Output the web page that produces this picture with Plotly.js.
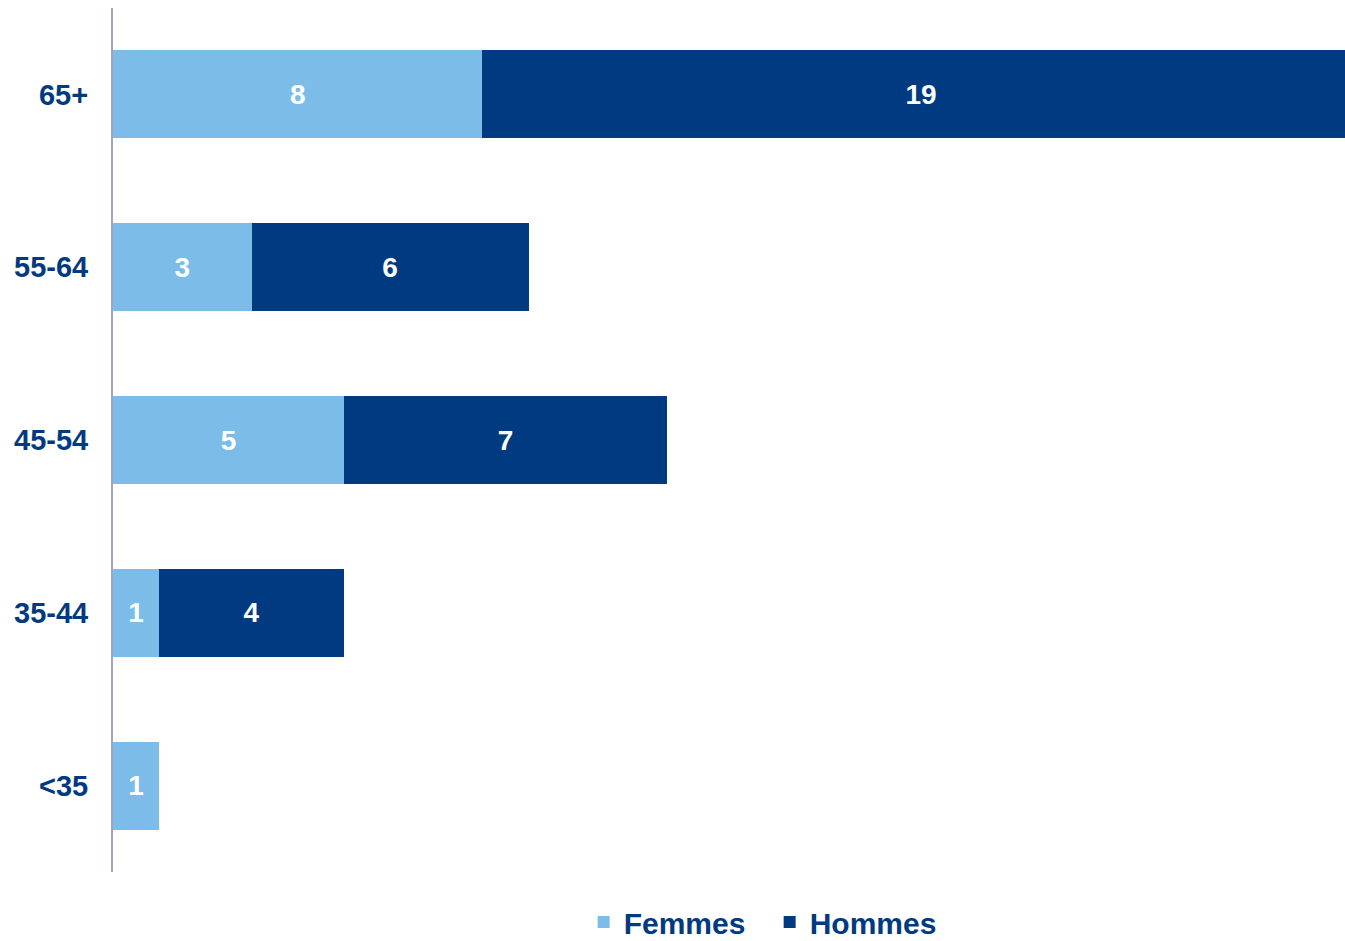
<!DOCTYPE html>
<html>
<head>
<meta charset="utf-8">
<script src="https://cdn.plot.ly/plotly-3.0.1.min.js"></script>
<style>
  html, body { margin: 0; padding: 0; background: #ffffff; }
  #chart { width: 1345px; height: 941px; }
</style>
</head>
<body>
<div id="chart"></div>
<script>
const categories = ['65+', '55-64', '45-54', '35-44', '<35'];
const femmes = [8, 3, 5, 1, 1];
const hommes = [19, 6, 7, 4, 0];

const lightBlue = '#7BBDE8';
const darkBlue = '#003A80';
const labelFont = { family: 'Liberation Sans, Arial, sans-serif', size: 28, color: '#ffffff', weight: 'bold' };

function labels(arr) { return arr.map(v => v > 0 ? String(v) : ''); }

const traces = [
  {
    type: 'bar', orientation: 'h', name: 'Femmes',
    y: categories, x: femmes,
    text: labels(femmes), textposition: 'inside', insidetextanchor: 'middle',
    textfont: labelFont, textangle: 0,
    marker: { color: lightBlue },
    hoverinfo: 'skip'
  },
  {
    type: 'bar', orientation: 'h', name: 'Hommes',
    y: categories, x: hommes,
    text: labels(hommes), textposition: 'inside', insidetextanchor: 'middle',
    textfont: labelFont, textangle: 0,
    marker: { color: darkBlue },
    hoverinfo: 'skip'
  }
];

const layout = {
  width: 1345, height: 941,
  margin: { l: 113, r: 0, t: 8, b: 69, autoexpand: false },
  paper_bgcolor: '#ffffff', plot_bgcolor: '#ffffff',
  barmode: 'stack',
  bargap: 0.49,
  font: { family: 'Liberation Sans, Arial, sans-serif', color: darkBlue },
  xaxis: {
    range: [0, 26.68], showgrid: false, zeroline: false, showline: false,
    showticklabels: false, ticks: ''
  },
  yaxis: {
    type: 'category', categoryorder: 'array', categoryarray: categories.slice().reverse(),
    range: [-0.5, 4.5],
    showgrid: false, zeroline: false, showline: true, linecolor: '#A0A4C0', linewidth: 2,
    ticks: '', ticklabelstandoff: 17,
    tickfont: { family: 'Liberation Sans, Arial, sans-serif', size: 29, color: darkBlue, weight: 'bold' }
  },
  showlegend: true,
  legend: {
    orientation: 'h', traceorder: 'normal', entrywidth: 141, entrywidthmode: 'pixels',
    x: 0.533, xanchor: 'center', y: -0.058, yanchor: 'middle',
    font: { family: 'Liberation Sans, Arial, sans-serif', size: 30, color: darkBlue, weight: 'bold' },
    itemclick: false, itemdoubleclick: false
  }
};

Plotly.newPlot('chart', traces, layout, { displayModeBar: false, staticPlot: true });
</script>
</body>
</html>
